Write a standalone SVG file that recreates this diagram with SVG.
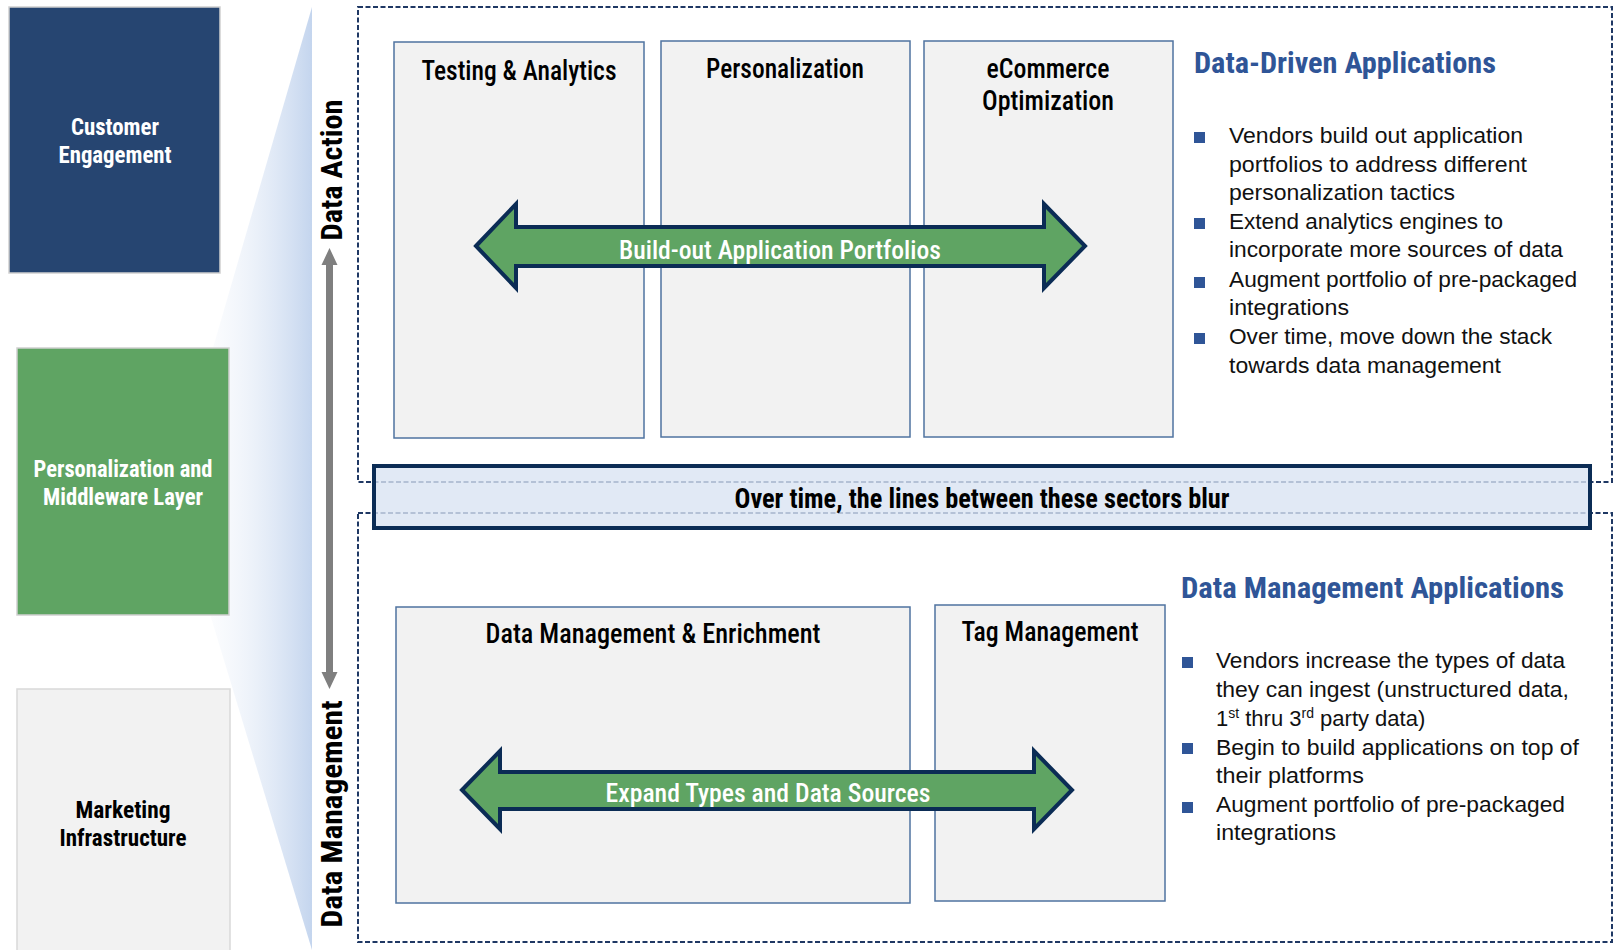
<svg xmlns="http://www.w3.org/2000/svg" width="1618" height="950" viewBox="0 0 1618 950">
<style>
.cond{font-family:"Liberation Sans Narrow","Roboto Condensed","Roboto","Liberation Sans",sans-serif;font-weight:bold}
.med{font-weight:500}
.body{font-family:"Liberation Sans","Arial",sans-serif;font-size:22px;fill:#111}
.ttl{font-size:27px;fill:#000}
.hd{font-size:30px;fill:#2f5597}
.lbl{font-size:23px;fill:#fff}
.inner{fill:#f2f2f2;stroke:#4f73a0;stroke-width:1.5}
.dash{fill:none;stroke:#1f3864;stroke-width:2;stroke-dasharray:5 2.5}
.bul{fill:#2f5597}
.dbl{fill:#5fa463;stroke:#0b2c55;stroke-width:4;stroke-linejoin:miter}
</style>
<defs>
<linearGradient id="fade" gradientUnits="userSpaceOnUse" x1="175" y1="0" x2="312" y2="0">
<stop offset="0" stop-color="#ffffff" stop-opacity="0"/>
<stop offset="1" stop-color="#c4d5ee"/>
</linearGradient>
</defs>
<rect width="1618" height="950" fill="#ffffff"/>
<polygon points="312,7 172,489 312,950" fill="url(#fade)"/>

<g id="customer-engagement">
<rect x="9" y="7" width="211" height="266" fill="#264571" stroke="#d0d0d0" stroke-width="1.5"/>
<text class="cond lbl" x="115" y="135" text-anchor="middle" textLength="88" lengthAdjust="spacingAndGlyphs">Customer</text>
<text class="cond lbl" x="115" y="163" text-anchor="middle" textLength="113" lengthAdjust="spacingAndGlyphs">Engagement</text>
</g>
<g id="personalization-middleware">
<rect x="17" y="348" width="212" height="267" fill="#5fa463" stroke="#d0d0d0" stroke-width="1.5"/>
<text class="cond lbl" x="123" y="477" text-anchor="middle" textLength="179" lengthAdjust="spacingAndGlyphs">Personalization and</text>
<text class="cond lbl" x="123" y="505" text-anchor="middle" textLength="160" lengthAdjust="spacingAndGlyphs">Middleware Layer</text>
</g>
<g id="marketing-infrastructure">
<rect x="17" y="689" width="213" height="270" fill="#f2f2f2" stroke="#d9d9d9" stroke-width="1.5"/>
<text class="cond" x="123" y="818" text-anchor="middle" font-size="23" fill="#000" textLength="95" lengthAdjust="spacingAndGlyphs">Marketing</text>
<text class="cond" x="123" y="846" text-anchor="middle" font-size="23" fill="#000" textLength="127" lengthAdjust="spacingAndGlyphs">Infrastructure</text>
</g>

<g id="axis-labels">
<text class="cond" transform="translate(342,170) rotate(-90)" text-anchor="middle" font-size="30" fill="#000" textLength="141" lengthAdjust="spacingAndGlyphs">Data Action</text>
<text class="cond" transform="translate(342,814) rotate(-90)" text-anchor="middle" font-size="30" fill="#000" textLength="227" lengthAdjust="spacingAndGlyphs">Data Management</text>
</g>

<g id="data-driven-section">
<rect class="dash" x="358" y="7" width="1254" height="475"/>
</g>
<g id="data-management-section">
<rect class="dash" x="358" y="513" width="1254" height="429"/>
</g>

<g id="testing-analytics">
<rect class="inner" x="394" y="42" width="250" height="396"/>
<text class="cond ttl med" x="519" y="80" text-anchor="middle" textLength="195" lengthAdjust="spacingAndGlyphs">Testing &amp; Analytics</text>
</g>
<g id="personalization">
<rect class="inner" x="661" y="41" width="249" height="396"/>
<text class="cond ttl med" x="785" y="78" text-anchor="middle" textLength="158" lengthAdjust="spacingAndGlyphs">Personalization</text>
</g>
<g id="ecommerce-optimization">
<rect class="inner" x="924" y="41" width="249" height="396"/>
<text class="cond ttl med" x="1048" y="78" text-anchor="middle" textLength="123" lengthAdjust="spacingAndGlyphs">eCommerce</text>
<text class="cond ttl med" x="1048" y="110" text-anchor="middle" textLength="132" lengthAdjust="spacingAndGlyphs">Optimization</text>
</g>

<g id="build-out-arrow">
<polygon class="dbl" points="476,246 516,204 516,227 1044,227 1044,204 1085,246 1044,288 1044,266 516,266 516,288"/>
<text class="cond med" x="780" y="259" text-anchor="middle" font-size="26" fill="#fff" textLength="322" lengthAdjust="spacingAndGlyphs">Build-out Application Portfolios</text>
</g>

<g id="data-driven-text">
<text class="cond hd" x="1194" y="73" textLength="302" lengthAdjust="spacingAndGlyphs">Data-Driven Applications</text>
<rect class="bul" x="1194" y="132" width="11" height="11"/>
<rect class="bul" x="1194" y="218" width="11" height="11"/>
<rect class="bul" x="1194" y="277" width="11" height="11"/>
<rect class="bul" x="1194" y="333" width="11" height="11"/>
<text class="body" x="1229" y="143" textLength="294" lengthAdjust="spacingAndGlyphs">Vendors build out application</text>
<text class="body" x="1229" y="172" textLength="298" lengthAdjust="spacingAndGlyphs">portfolios to address different</text>
<text class="body" x="1229" y="200" textLength="226" lengthAdjust="spacingAndGlyphs">personalization tactics</text>
<text class="body" x="1229" y="229" textLength="274" lengthAdjust="spacingAndGlyphs">Extend analytics engines to</text>
<text class="body" x="1229" y="257" textLength="334" lengthAdjust="spacingAndGlyphs">incorporate more sources of data</text>
<text class="body" x="1229" y="287" textLength="348" lengthAdjust="spacingAndGlyphs">Augment portfolio of pre-packaged</text>
<text class="body" x="1229" y="315" textLength="120" lengthAdjust="spacingAndGlyphs">integrations</text>
<text class="body" x="1229" y="344" textLength="323" lengthAdjust="spacingAndGlyphs">Over time, move down the stack</text>
<text class="body" x="1229" y="373" textLength="272" lengthAdjust="spacingAndGlyphs">towards data management</text>
</g>

<g id="blur-banner">
<rect x="374" y="466" width="1216" height="62" fill="#dae3f2" fill-opacity="0.8" stroke="#0b2c55" stroke-width="4"/>
<text class="cond" x="982" y="508" text-anchor="middle" font-size="27" fill="#000" textLength="495" lengthAdjust="spacingAndGlyphs">Over time, the lines between these sectors blur</text>
</g>

<g id="data-management-enrichment">
<rect class="inner" x="396" y="607" width="514" height="296"/>
<text class="cond ttl med" x="653" y="643" text-anchor="middle" textLength="335" lengthAdjust="spacingAndGlyphs">Data Management &amp; Enrichment</text>
</g>
<g id="tag-management">
<rect class="inner" x="935" y="605" width="230" height="296"/>
<text class="cond ttl med" x="1050" y="641" text-anchor="middle" textLength="177" lengthAdjust="spacingAndGlyphs">Tag Management</text>
</g>

<g id="expand-arrow">
<polygon class="dbl" points="462,790 500,751 500,772 1034,772 1034,751 1072,790 1034,829 1034,809 500,809 500,829"/>
<text class="cond med" x="768" y="802" text-anchor="middle" font-size="26" fill="#fff" textLength="325" lengthAdjust="spacingAndGlyphs">Expand Types and Data Sources</text>
</g>

<g id="data-management-text">
<text class="cond hd" x="1181" y="598" textLength="383" lengthAdjust="spacingAndGlyphs">Data Management Applications</text>
<rect class="bul" x="1182" y="657" width="11" height="11"/>
<rect class="bul" x="1182" y="743" width="11" height="11"/>
<rect class="bul" x="1182" y="802" width="11" height="11"/>
<text class="body" x="1216" y="668" textLength="349" lengthAdjust="spacingAndGlyphs">Vendors increase the types of data</text>
<text class="body" x="1216" y="697" textLength="353" lengthAdjust="spacingAndGlyphs">they can ingest (unstructured data,</text>
<text class="body" x="1216" y="726">1<tspan font-size="14" dy="-8">st</tspan><tspan dy="8"> thru 3</tspan><tspan font-size="14" dy="-8">rd</tspan><tspan dy="8"> party data)</tspan></text>
<text class="body" x="1216" y="755" textLength="363" lengthAdjust="spacingAndGlyphs">Begin to build applications on top of</text>
<text class="body" x="1216" y="783" textLength="148" lengthAdjust="spacingAndGlyphs">their platforms</text>
<text class="body" x="1216" y="812" textLength="349" lengthAdjust="spacingAndGlyphs">Augment portfolio of pre-packaged</text>
<text class="body" x="1216" y="840" textLength="120" lengthAdjust="spacingAndGlyphs">integrations</text>
</g>

<g id="connectors">
<line x1="329.5" y1="262" x2="329.5" y2="676" stroke="#7f7f7f" stroke-width="7"/>
<polygon points="329.5,248 337.5,265 321.5,265" fill="#7f7f7f"/>
<polygon points="329.5,689 337.5,672 321.5,672" fill="#7f7f7f"/>
</g>
</svg>
